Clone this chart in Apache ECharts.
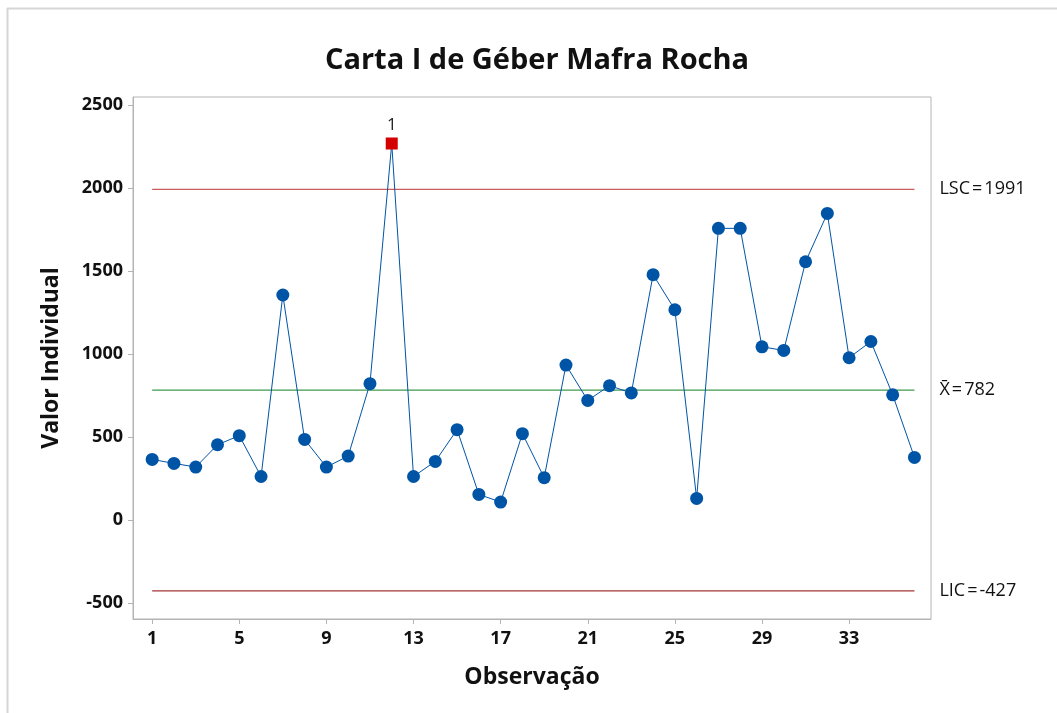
<!DOCTYPE html>
<html>
<head>
<meta charset="utf-8">
<script src="https://cdn.jsdelivr.net/npm/echarts@6/dist/echarts.min.js"></script>
<style>html,body{margin:0;padding:0;background:#fff}#c{width:1057px;height:713px}</style>
</head>
<body>
<div id="c"></div>
<script>
const titleText = 'Carta I de Géber Mafra Rocha';
const xName = 'Observação';
const yName = 'Valor Individual';
const observations = [1,2,3,4,5,6,7,8,9,10,11,12,13,14,15,16,17,18,19,20,21,22,23,24,25,26,27,28,29,30,31,32,33,34,35,36];
const values = [365,341,319,453,508,262,1355,485,319,385,821,2267,262,353,544,154,108,520,255,933,720,809,765,1477,1266,130,1756,1756,1043,1021,1555,1846,977,1075,754,377];
const outOfControl = [12];
const outLabels = ['1'];
const xTicks = [1,5,9,13,17,21,25,29,33];
const yTicks = [-500,0,500,1000,1500,2000,2500];
const limitNames = ['LSC','X\u0304','LIC'];
const limitValues = [1991,782,-427];
const limitColors = ['#cc5c5c','#3f9a4f','#a33434'];

const FONT = 'Open Sans';
const chart = echarts.init(document.getElementById('c'), null, {renderer:'canvas'});

const mainData = observations.map((x,i)=>{
  const idx = outOfControl.indexOf(x);
  if (idx >= 0) {
    return {value:[x, values[i]], symbol:'rect', symbolSize:12,
      itemStyle:{color:'#d40000'},
      label:{show:true, position:'top', distance:4, formatter:outLabels[idx], color:'#222', fontSize:17, fontFamily:FONT}};
  }
  return {value:[x, values[i]]};
});

const n = observations.length;
const limitSeries = limitNames.map((nm,k)=>({
  type:'line', silent:true, symbol:'none', z:1,
  data:[[observations[0], limitValues[k]],[observations[n-1], limitValues[k]]],
  lineStyle:{color:limitColors[k], width:1.2},
  endLabel:{show:true, distance:25, formatter: '{a|' + nm + '}{b|=}{a|' + limitValues[k] + '}', align:'left',
    rich:{
      a:{color:'#111', fontSize:18, fontFamily:FONT},
      b:{color:'#111', fontSize:18, fontFamily:FONT, padding:[0,2,0,2]}
    }}
}));

chart.setOption({
  animation:false,
  backgroundColor:'#fff',
  title:{text:titleText, left:532, top:41, textAlign:'center',
    textStyle:{fontFamily:FONT, fontSize:29, fontWeight:'bold', color:'#111'}},
  grid:{left:133, top:97, right:126, bottom:94, show:true, borderColor:'#b4b4b4', borderWidth:1},
  xAxis:{type:'value', min:0.12, max:36.76, name:xName, nameLocation:'middle', nameGap:47,
    nameTextStyle:{fontFamily:FONT, fontSize:23, fontWeight:'bold', color:'#111'},
    axisLine:{show:true, onZero:false, lineStyle:{color:'#b4b4b4'}},
    axisTick:{show:true, length:5, customValues:xTicks, lineStyle:{color:'#b4b4b4'}},
    axisLabel:{customValues:xTicks, fontFamily:FONT, fontSize:18, fontWeight:'bold', color:'#111', margin:11},
    splitLine:{show:false}},
  yAxis:{type:'value', min:-596, max:2547, name:yName, nameLocation:'middle', nameGap:70,
    nameTextStyle:{fontFamily:FONT, fontSize:23, fontWeight:'bold', color:'#111'},
    axisLine:{show:true, onZero:false, lineStyle:{color:'#b4b4b4'}},
    axisTick:{show:true, length:5, customValues:yTicks, lineStyle:{color:'#b4b4b4'}},
    axisLabel:{customValues:yTicks, formatter:(v)=>String(v), fontFamily:FONT, fontSize:18, fontWeight:'bold', color:'#111', margin:10},
    splitLine:{show:false}},
  graphic:[
    {type:'line', shape:{x1:7, y1:8.5, x2:1057, y2:8.5}, style:{stroke:'#d6d6d6', lineWidth:2}, silent:true},
    {type:'line', shape:{x1:7.5, y1:8, x2:7.5, y2:713}, style:{stroke:'#d6d6d6', lineWidth:2}, silent:true}
  ],
  series:[
    ...limitSeries,
    {type:'line', z:5, data:mainData, symbol:'circle', symbolSize:13,
      lineStyle:{color:'#0054a6', width:1}, itemStyle:{color:'#0054a6'}}
  ]
});
</script>
</body>
</html>
